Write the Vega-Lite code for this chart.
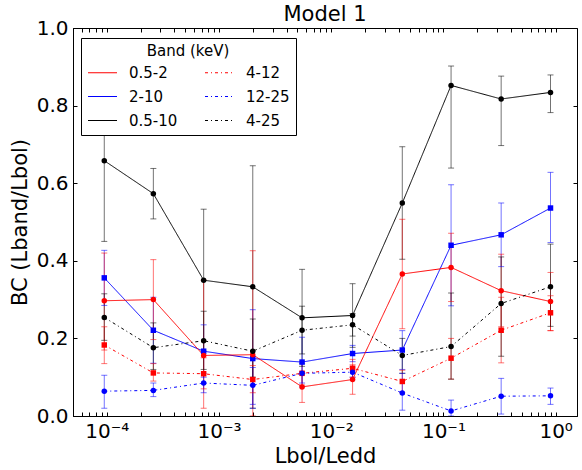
{
  "$schema": "https://vega.github.io/schema/vega-lite/v6.json",
  "width": 504,
  "height": 388,
  "autosize": "none",
  "padding": {"left": 73, "top": 28, "right": 5, "bottom": 54},
  "background": "white",
  "title": {"text": "Model 1", "fontSize": 21, "font": "DejaVu Sans", "fontWeight": "normal", "offset": 3, "dy": 10, "color": "black"},
  "config": {
    "view": {"stroke": "black", "strokeWidth": 1},
    "font": "DejaVu Sans",
    "axis": {"grid": false, "domainColor": "black", "tickColor": "black", "labelColor": "black", "titleColor": "black", "labelFont": "DejaVu Sans", "titleFont": "DejaVu Sans", "labelFontSize": 20, "titleFontSize": 21, "titleFontWeight": "normal", "tickSize": -4, "labelPadding": 9}
  },
  "resolve": {"axis": {"x": "independent", "y": "independent"}},
  "data": {"values": [
    {"band": "0.5-10", "x": 9.5e-5, "y": 0.658, "lo": 0.45, "hi": 0.866},
    {"band": "0.5-10", "x": 2.6e-4, "y": 0.573, "lo": 0.508, "hi": 0.638},
    {"band": "0.5-10", "x": 7.3e-4, "y": 0.350, "lo": 0.167, "hi": 0.533},
    {"band": "0.5-10", "x": 2.0e-3, "y": 0.333, "lo": 0.02, "hi": 0.645},
    {"band": "0.5-10", "x": 5.5e-3, "y": 0.253, "lo": 0.128, "hi": 0.378},
    {"band": "0.5-10", "x": 0.0155, "y": 0.259, "lo": 0.177, "hi": 0.341},
    {"band": "0.5-10", "x": 0.043, "y": 0.549, "lo": 0.404, "hi": 0.694},
    {"band": "0.5-10", "x": 0.117, "y": 0.852, "lo": 0.639, "hi": 0.902},
    {"band": "0.5-10", "x": 0.327, "y": 0.817, "lo": 0.697, "hi": 0.876},
    {"band": "0.5-10", "x": 0.90, "y": 0.834, "lo": 0.782, "hi": 0.879},
    {"band": "2-10", "x": 9.5e-5, "y": 0.356, "lo": 0.285, "hi": 0.427},
    {"band": "2-10", "x": 2.6e-4, "y": 0.221, "lo": 0.136, "hi": 0.306},
    {"band": "2-10", "x": 7.3e-4, "y": 0.167, "lo": 0.10, "hi": 0.235},
    {"band": "2-10", "x": 2.0e-3, "y": 0.148, "lo": 0.02, "hi": 0.274},
    {"band": "2-10", "x": 5.5e-3, "y": 0.139, "lo": 0.075, "hi": 0.203},
    {"band": "2-10", "x": 0.0155, "y": 0.161, "lo": 0.14, "hi": 0.182},
    {"band": "2-10", "x": 0.043, "y": 0.170, "lo": 0.12, "hi": 0.22},
    {"band": "2-10", "x": 0.117, "y": 0.440, "lo": 0.284, "hi": 0.596},
    {"band": "2-10", "x": 0.327, "y": 0.467, "lo": 0.385, "hi": 0.549},
    {"band": "2-10", "x": 0.90, "y": 0.536, "lo": 0.447, "hi": 0.628},
    {"band": "0.5-2", "x": 9.5e-5, "y": 0.297, "lo": 0.17, "hi": 0.42},
    {"band": "0.5-2", "x": 2.6e-4, "y": 0.300, "lo": 0.197, "hi": 0.403},
    {"band": "0.5-2", "x": 7.3e-4, "y": 0.156, "lo": 0.02, "hi": 0.35},
    {"band": "0.5-2", "x": 2.0e-3, "y": 0.158, "lo": 0.0, "hi": 0.426},
    {"band": "0.5-2", "x": 5.5e-3, "y": 0.075, "lo": 0.035, "hi": 0.115},
    {"band": "0.5-2", "x": 0.0155, "y": 0.094, "lo": 0.056, "hi": 0.132},
    {"band": "0.5-2", "x": 0.043, "y": 0.366, "lo": 0.225, "hi": 0.507},
    {"band": "0.5-2", "x": 0.117, "y": 0.383, "lo": 0.295, "hi": 0.471},
    {"band": "0.5-2", "x": 0.327, "y": 0.323, "lo": 0.23, "hi": 0.417},
    {"band": "0.5-2", "x": 0.90, "y": 0.295, "lo": 0.22, "hi": 0.37},
    {"band": "4-12", "x": 9.5e-5, "y": 0.183, "lo": 0.135, "hi": 0.23},
    {"band": "4-12", "x": 2.6e-4, "y": 0.111, "lo": 0.09, "hi": 0.135},
    {"band": "4-12", "x": 7.3e-4, "y": 0.109, "lo": 0.07, "hi": 0.15},
    {"band": "4-12", "x": 2.0e-3, "y": 0.094, "lo": 0.06, "hi": 0.13},
    {"band": "4-12", "x": 5.5e-3, "y": 0.110, "lo": 0.08, "hi": 0.14},
    {"band": "4-12", "x": 0.0155, "y": 0.123, "lo": 0.10, "hi": 0.146},
    {"band": "4-12", "x": 0.043, "y": 0.089, "lo": 0.06, "hi": 0.118},
    {"band": "4-12", "x": 0.117, "y": 0.149, "lo": 0.095, "hi": 0.2},
    {"band": "4-12", "x": 0.327, "y": 0.221, "lo": 0.137, "hi": 0.306},
    {"band": "4-12", "x": 0.90, "y": 0.266, "lo": 0.22, "hi": 0.31},
    {"band": "12-25", "x": 9.5e-5, "y": 0.064, "lo": 0.02, "hi": 0.105},
    {"band": "12-25", "x": 2.6e-4, "y": 0.066, "lo": 0.05, "hi": 0.085},
    {"band": "12-25", "x": 7.3e-4, "y": 0.085, "lo": 0.06, "hi": 0.11},
    {"band": "12-25", "x": 2.0e-3, "y": 0.079, "lo": 0.03, "hi": 0.125},
    {"band": "12-25", "x": 5.5e-3, "y": 0.110, "lo": 0.085, "hi": 0.135},
    {"band": "12-25", "x": 0.0155, "y": 0.113, "lo": 0.10, "hi": 0.126},
    {"band": "12-25", "x": 0.043, "y": 0.059, "lo": 0.015, "hi": 0.11},
    {"band": "12-25", "x": 0.117, "y": 0.013, "lo": 0.0, "hi": 0.041},
    {"band": "12-25", "x": 0.327, "y": 0.051, "lo": 0.005, "hi": 0.097},
    {"band": "12-25", "x": 0.90, "y": 0.052, "lo": 0.03, "hi": 0.072},
    {"band": "4-25", "x": 9.5e-5, "y": 0.254, "lo": 0.195, "hi": 0.315},
    {"band": "4-25", "x": 2.6e-4, "y": 0.176, "lo": 0.12, "hi": 0.24},
    {"band": "4-25", "x": 7.3e-4, "y": 0.194, "lo": 0.12, "hi": 0.27},
    {"band": "4-25", "x": 2.0e-3, "y": 0.167, "lo": 0.10, "hi": 0.25},
    {"band": "4-25", "x": 5.5e-3, "y": 0.221, "lo": 0.16, "hi": 0.283},
    {"band": "4-25", "x": 0.0155, "y": 0.235, "lo": 0.206, "hi": 0.264},
    {"band": "4-25", "x": 0.043, "y": 0.156, "lo": 0.11, "hi": 0.20},
    {"band": "4-25", "x": 0.117, "y": 0.179, "lo": 0.095, "hi": 0.317},
    {"band": "4-25", "x": 0.327, "y": 0.290, "lo": 0.154, "hi": 0.41},
    {"band": "4-25", "x": 0.90, "y": 0.333, "lo": 0.231, "hi": 0.443}
  ]},
  "layer": [
    {
      "mark": {"type": "rule", "strokeWidth": 1, "opacity": 0.55, "clip": true},
      "encoding": {
        "x": {"field": "x", "type": "quantitative",
          "scale": {"type": "log", "domain": [5e-5, 1.55], "nice": false},
          "axis": {"orient": "top", "labels": false, "title": null, "domain": false,
            "values": [5e-5, 6e-5, 7e-5, 8e-5, 9e-5, 0.0001, 0.0002, 0.0003, 0.0004, 0.0005, 0.0006, 0.0007, 0.0008, 0.0009, 0.001, 0.002, 0.003, 0.004, 0.005, 0.006, 0.007, 0.008, 0.009, 0.01, 0.02, 0.03, 0.04, 0.05, 0.06, 0.07, 0.08, 0.09, 0.1, 0.2, 0.3, 0.4, 0.5, 0.6, 0.7, 0.8, 0.9, 1]}},
        "y": {"field": "lo", "type": "quantitative", "scale": {"domain": [0, 1], "nice": false},
          "axis": {"orient": "right", "labels": false, "title": null, "domain": false, "values": [0, 0.2, 0.4, 0.6, 0.8, 1.0]}},
        "y2": {"field": "hi"},
        "stroke": {"field": "band", "type": "nominal", "legend": null,
          "scale": {"domain": ["0.5-10", "0.5-2", "2-10", "4-12", "12-25", "4-25"], "range": ["#000000", "#ff0000", "#0000ff", "#ff0000", "#0000ff", "#000000"]}}
      }
    },
    {
      "mark": {"type": "tick", "orient": "horizontal", "size": 6, "thickness": 1, "opacity": 0.55, "clip": true},
      "encoding": {
        "x": {"field": "x", "type": "quantitative", "axis": null},
        "y": {"field": "lo", "type": "quantitative", "axis": null},
        "fill": {"field": "band", "type": "nominal", "legend": null,
          "scale": {"domain": ["4-25", "12-25", "4-12", "2-10", "0.5-2", "0.5-10"], "range": ["#000000", "#0000ff", "#ff0000", "#0000ff", "#ff0000", "#000000"]}}
      }
    },
    {
      "mark": {"type": "tick", "orient": "horizontal", "size": 6, "thickness": 1, "opacity": 0.55, "clip": true},
      "encoding": {
        "x": {"field": "x", "type": "quantitative", "axis": null},
        "y": {"field": "hi", "type": "quantitative", "axis": null},
        "fill": {"field": "band", "type": "nominal", "legend": null}
      }
    },
    {
      "mark": {"type": "line", "strokeWidth": 1, "clip": true},
      "encoding": {
        "x": {"field": "x", "type": "quantitative",
          "axis": {"title": "Lbol/Ledd", "titlePadding": 4, "labelOverlap": false, "labelFlush": false,
            "values": [5e-5, 6e-5, 7e-5, 8e-5, 9e-5, 0.0001, 0.0002, 0.0003, 0.0004, 0.0005, 0.0006, 0.0007, 0.0008, 0.0009, 0.001, 0.002, 0.003, 0.004, 0.005, 0.006, 0.007, 0.008, 0.009, 0.01, 0.02, 0.03, 0.04, 0.05, 0.06, 0.07, 0.08, 0.09, 0.1, 0.2, 0.3, 0.4, 0.5, 0.6, 0.7, 0.8, 0.9, 1],
            "labelExpr": "datum.value == 0.0001 ? '10⁻⁴' : datum.value == 0.001 ? '10⁻³' : datum.value == 0.01 ? '10⁻²' : datum.value == 0.1 ? '10⁻¹' : datum.value == 1 ? '10⁰' : ''"}},
        "y": {"field": "y", "type": "quantitative",
          "axis": {"title": "BC (Lband/Lbol)", "values": [0, 0.2, 0.4, 0.6, 0.8, 1.0], "format": ".1f", "titlePadding": 6}},
        "color": {"field": "band", "type": "nominal",
          "scale": {"domain": ["0.5-2", "4-12", "2-10", "12-25", "0.5-10", "4-25"], "range": ["#ff0000", "#ff0000", "#0000ff", "#0000ff", "#000000", "#000000"]},
          "legend": {"title": "Band (keV)", "orient": "none", "legendX": 8, "legendY": 10, "columns": 2, "direction": "horizontal",
            "titleAnchor": "middle", "titleFontSize": 15, "titleFontWeight": "normal", "labelFontSize": 15, "titleColor": "black", "labelColor": "black",
            "symbolType": "stroke", "symbolSize": 841, "symbolStrokeWidth": 1.2, "symbolOpacity": 1, "columnPadding": 24, "rowPadding": -7, "padding": 6,
            "strokeColor": "black", "fillColor": "white", "labelOffset": 11, "titlePadding": -2, "cornerRadius": 0}},
        "strokeDash": {"field": "band", "type": "nominal",
          "scale": {"domain": ["0.5-2", "4-12", "2-10", "12-25", "0.5-10", "4-25"], "range": [[1, 0], [3, 3, 1, 3], [1, 0], [3, 3, 1, 3], [1, 0], [3, 3, 1, 3]]},
          "legend": {"title": "Band (keV)"}},
        "detail": {"field": "band"}
      }
    },
    {
      "mark": {"type": "point", "filled": true, "size": 30, "opacity": 1, "clip": true},
      "encoding": {
        "x": {"field": "x", "type": "quantitative", "axis": null},
        "y": {"field": "y", "type": "quantitative", "axis": null},
        "fill": {"field": "band", "type": "nominal", "legend": null},
        "shape": {"field": "band", "type": "nominal", "legend": null,
          "scale": {"domain": ["4-25", "12-25", "4-12", "2-10", "0.5-2", "0.5-10"], "range": ["circle", "circle", "square", "square", "circle", "circle"]}}
      }
    }
  ]
}
